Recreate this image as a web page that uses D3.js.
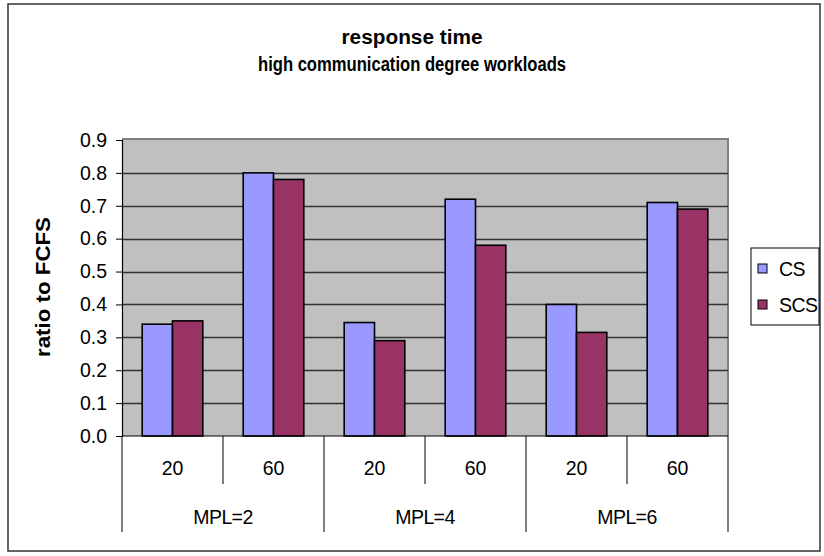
<!DOCTYPE html>
<html>
<head>
<meta charset="utf-8">
<script src="https://cdn.jsdelivr.net/npm/d3@7"></script>
<style>
  html, body { margin: 0; padding: 0; background: #fff; }
  svg { display: block; font-family: "Liberation Sans", Arial, sans-serif; }
</style>
</head>
<body>
<svg id="chart" width="824" height="556"></svg>
<script>
const titleLines = ["response time", "high communication degree workloads"];
const yAxisTitle = "ratio to FCFS";
const mplGroups = ["MPL=2", "MPL=4", "MPL=6"];
const subCategories = ["20", "60"];
const seriesNames = ["CS", "SCS"];
const seriesColors = ["#9999FF", "#993366"];
const csValues = [0.34, 0.80, 0.345, 0.72, 0.40, 0.71];
const scsValues = [0.35, 0.78, 0.29, 0.58, 0.315, 0.69];
const yTickValues = [0, 0.1, 0.2, 0.3, 0.4, 0.5, 0.6, 0.7, 0.8, 0.9];

const svg = d3.select("#chart");

const cats = [];
mplGroups.forEach(g => subCategories.forEach(s => cats.push(g + "|" + s)));
const rows = cats.map((c, i) => ({ key: c, group: c.split("|")[0], sub: c.split("|")[1], values: [csValues[i], scsValues[i]] }));

const plot = { left: 122, right: 728, top: 140, bottom: 436 };

const x = d3.scaleBand().domain(cats).range([plot.left, plot.right]).paddingInner(0).paddingOuter(0);
const xs = d3.scaleBand().domain(seriesNames).range([0, x.bandwidth()]).paddingInner(0).paddingOuter(0.667);
const y = d3.scaleLinear().domain([0, 0.9]).range([plot.bottom, plot.top]);
const color = d3.scaleOrdinal().domain(seriesNames).range(seriesColors);

// outer frame
svg.append("rect").attr("x", 8).attr("y", 4).attr("width", 812).attr("height", 547)
  .attr("fill", "#fff").attr("stroke", "#333").attr("stroke-width", 1.5);

// title
const titleWidths = [141, 308];
svg.append("g").selectAll("text").data(titleLines).join("text")
  .attr("x", 412).attr("y", (d, i) => 44 + i * 27)
  .attr("text-anchor", "middle").attr("font-weight", "bold").attr("font-size", 20)
  .attr("textLength", (d, i) => titleWidths[i]).attr("lengthAdjust", "spacingAndGlyphs")
  .text(d => d);

// plot area
svg.append("rect").attr("x", plot.left).attr("y", plot.top)
  .attr("width", plot.right - plot.left).attr("height", plot.bottom - plot.top)
  .attr("fill", "#C0C0C0");
svg.append("path")
  .attr("d", `M${plot.left},${plot.top - 1}H${plot.right}V${plot.bottom}`)
  .attr("fill", "none").attr("stroke", "#808080").attr("stroke-width", 2);

// gridlines
svg.append("g").selectAll("line").data(yTickValues.filter(v => v > 0 && v < 0.9)).join("line")
  .attr("x1", plot.left).attr("x2", plot.right)
  .attr("y1", d => Math.round(y(d)) + 0.5).attr("y2", d => Math.round(y(d)) + 0.5)
  .attr("stroke", "#333").attr("stroke-width", 1.3);

// bars
const gBars = svg.append("g");
rows.forEach(r => {
  gBars.selectAll(null).data(seriesNames.map((s, i) => ({ s, v: r.values[i] }))).join("rect")
    .attr("x", d => x(r.key) + xs(d.s))
    .attr("width", xs.bandwidth())
    .attr("y", d => y(d.v))
    .attr("height", d => y(0) - y(d.v))
    .attr("fill", d => color(d.s))
    .attr("stroke", "#000").attr("stroke-width", 1.6);
});

// y axis
const yAxis = d3.axisLeft(y).tickValues(yTickValues).tickFormat(d3.format(".1f")).tickSize(6).tickPadding(9);
const gy = svg.append("g").attr("transform", `translate(${plot.left},0)`).call(yAxis);
gy.select(".domain").attr("stroke", "#000").attr("stroke-width", 1.2);
gy.selectAll(".tick line").attr("stroke", "#000");
gy.selectAll("text").attr("font-size", 19.5).attr("fill", "#000").attr("font-family", "Liberation Sans, Arial, sans-serif");

// x axis line
svg.append("line").attr("x1", plot.left).attr("x2", plot.right)
  .attr("y1", plot.bottom).attr("y2", plot.bottom).attr("stroke", "#000").attr("stroke-width", 1.2);

// sub-category separators (short)
const gx = svg.append("g");
cats.forEach((c, i) => {
  if (i % subCategories.length !== 0) {
    gx.append("line").attr("x1", x(c)).attr("x2", x(c)).attr("y1", plot.bottom).attr("y2", 484)
      .attr("stroke", "#000").attr("stroke-width", 1);
  }
});
// group separators (long)
const groupEdges = mplGroups.map(g => x(g + "|" + subCategories[0])).concat([plot.right]);
gx.selectAll(".gsep").data(groupEdges).join("line")
  .attr("x1", d => d).attr("x2", d => d).attr("y1", plot.bottom).attr("y2", 532)
  .attr("stroke", "#000").attr("stroke-width", 1);

// sub-category labels
gx.selectAll(".sublab").data(rows).join("text")
  .attr("x", d => x(d.key) + x.bandwidth() / 2).attr("y", 475)
  .attr("text-anchor", "middle").attr("font-size", 19.5)
  .text(d => d.sub);
// group labels
gx.selectAll(".grplab").data(mplGroups).join("text")
  .attr("x", g => x(g + "|" + subCategories[0]) + x.bandwidth())
  .attr("y", 524).attr("text-anchor", "middle").attr("font-size", 19.5)
  .attr("letter-spacing", "-0.6")
  .text(g => g);

// y axis title
svg.append("text").attr("transform", "translate(50,287) rotate(-90)")
  .attr("text-anchor", "middle").attr("font-weight", "bold").attr("font-size", 19.5)
  .attr("textLength", 140).attr("lengthAdjust", "spacingAndGlyphs")
  .text(yAxisTitle);

// legend
const lg = svg.append("g");
lg.append("rect").attr("x", 751).attr("y", 248).attr("width", 68).attr("height", 77)
  .attr("fill", "#fff").attr("stroke", "#000").attr("stroke-width", 1);
const li = lg.selectAll(".li").data(seriesNames).join("g")
  .attr("transform", (d, i) => `translate(758,${264 + i * 36})`);
li.append("rect").attr("x", 0).attr("y", 0).attr("width", 9).attr("height", 9)
  .attr("fill", d => color(d)).attr("stroke", "#000").attr("stroke-width", 1);
li.append("text").attr("x", 21).attr("y", 12).attr("font-size", 19.5).attr("letter-spacing", "-0.6").text(d => d);
</script>
</body>
</html>
